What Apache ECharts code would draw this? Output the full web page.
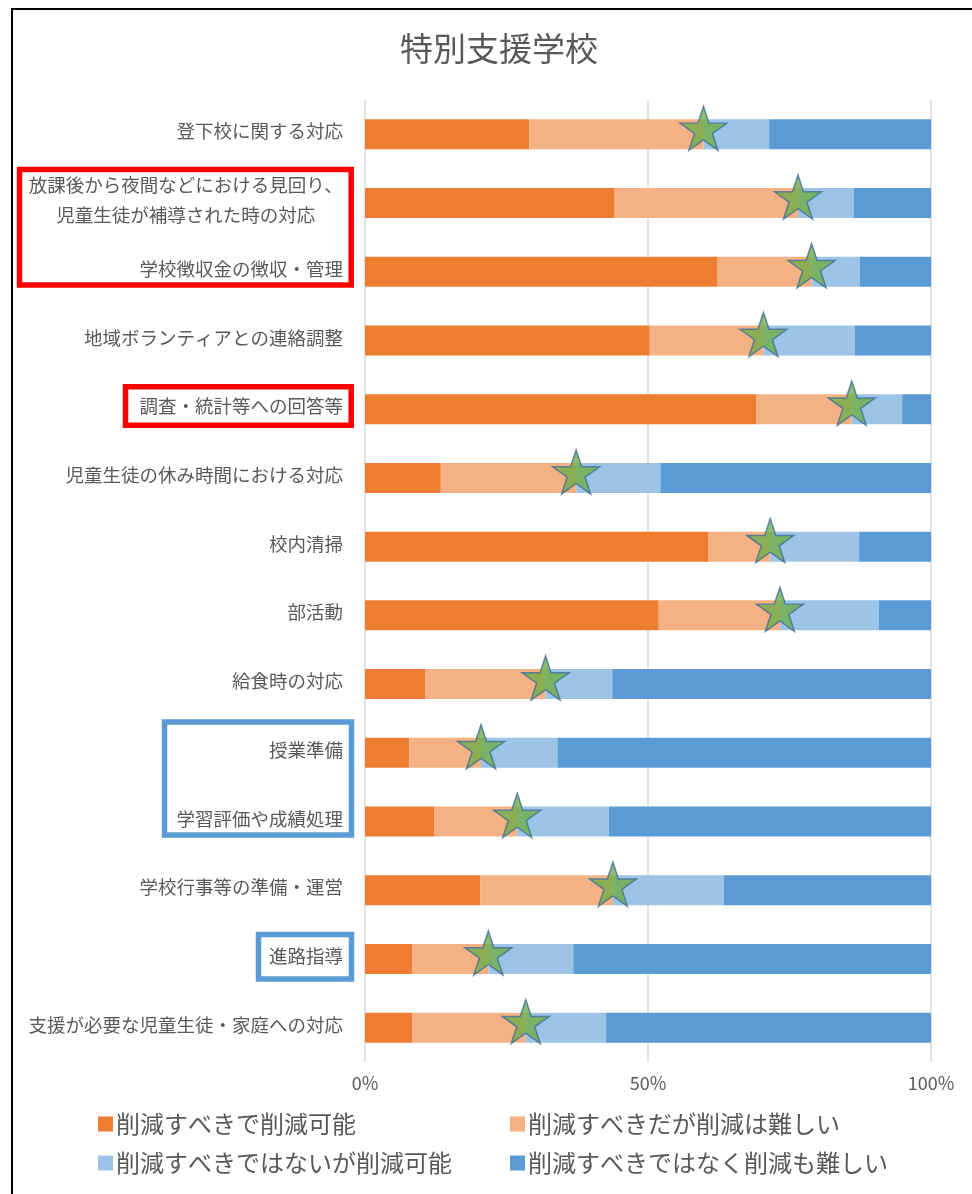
<!DOCTYPE html>
<html>
<head>
<meta charset="utf-8">
<script src="https://cdn.jsdelivr.net/npm/echarts@6/dist/echarts.min.js"></script>
<style>
html,body{margin:0;padding:0;background:#fff;}
#chart{width:972px;height:1194px;}
</style>
</head>
<body>
<div id="chart"></div>
<script>
// ---- data ----
const titleText = '特別支援学校';
const categories = [
  '登下校に関する対応',
  '放課後から夜間などにおける見回り、\n児童生徒が補導された時の対応',
  '学校徴収金の徴収・管理',
  '地域ボランティアとの連絡調整',
  '調査・統計等への回答等',
  '児童生徒の休み時間における対応',
  '校内清掃',
  '部活動',
  '給食時の対応',
  '授業準備',
  '学習評価や成績処理',
  '学校行事等の準備・運営',
  '進路指導',
  '支援が必要な児童生徒・家庭への対応'
];
const seriesNames = ['削減すべきで削減可能', '削減すべきだが削減は難しい', '削減すべきではないが削減可能', '削減すべきではなく削減も難しい'];
const reducibleEasy   = [29.0, 44.1, 62.3, 50.3, 69.1, 13.4, 60.6, 51.9, 10.7,  7.8, 12.2, 20.4,  8.4,  8.4];
const reducibleHard   = [30.8, 32.4, 16.6, 20.1, 16.9, 23.9, 11.0, 21.4, 21.2, 12.7, 14.7, 23.4, 13.4, 20.0];
const keepEasy        = [11.6,  9.8,  8.5, 16.1,  8.9, 14.9, 15.7, 17.5, 11.8, 13.5, 16.2, 19.6, 15.0, 14.2];
const keepHard        = [28.6, 13.7, 12.6, 13.5,  5.1, 47.8, 12.7,  9.2, 56.3, 66.0, 56.9, 36.6, 63.2, 57.4];
const starValues      = [59.8, 76.5, 78.9, 70.4, 86.0, 37.3, 71.6, 73.3, 31.9, 20.5, 26.9, 43.8, 21.8, 28.4];
const xTicks = [0, 50, 100];

const colors = ['#ED7D31', '#F4B183', '#9DC3E6', '#5B9BD5'];
const labelColor = '#595959';
const fontFamily = '"Noto Sans CJK JP", "Noto Sans", sans-serif';

const chart = echarts.init(document.getElementById('chart'), null, {renderer: 'canvas'});

const starPath = 'path://M50,0 L61.2,34.5 L97.6,34.5 L68.2,55.9 L79.4,90.5 L50,69.1 L20.6,90.5 L31.8,55.9 L2.4,34.5 L38.8,34.5 Z';

const values = [reducibleEasy, reducibleHard, keepEasy, keepHard];
const barSeries = values.map((arr, i) => ({
  name: seriesNames[i],
  type: 'bar',
  stack: 'total',
  barWidth: 30,
  itemStyle: {color: colors[i]},
  data: arr,
  z: 2
}));

const starSeries = {
  name: 'star',
  type: 'scatter',
  symbol: starPath,
  symbolSize: [47, 44],
  symbolOffset: [0, -6],
  itemStyle: {color: '#70AD47', borderColor: '#41719C', borderWidth: 1.5},
  data: starValues.map((v, i) => [v, i]),
  z: 5
};

const yFont = 18.5;
const labelWidth = yFont * 17;

function box(x, y, w, h, color) {
  return {
    type: 'rect',
    shape: {x: x, y: y, width: w, height: h},
    style: {fill: 'none', stroke: color, lineWidth: 5.5},
    z: 100
  };
}

chart.setOption({
  animation: false,
  backgroundColor: '#ffffff',
  title: {
    text: titleText,
    left: 494,
    top: 27,
    textAlign: 'center',
    textStyle: {fontFamily: fontFamily, fontSize: 33, fontWeight: 'normal', color: labelColor}
  },
  grid: {left: 365, right: 41, top: 100, bottom: 132, containLabel: false},
  xAxis: {
    type: 'value',
    min: 0, max: 100, interval: 50,
    axisLine: {show: false},
    axisTick: {show: false},
    splitLine: {show: true, lineStyle: {color: '#D9D9D9', width: 1.5}},
    axisLabel: {
      margin: 12,
      color: labelColor,
      fontFamily: fontFamily,
      fontSize: 18,
      formatter: v => xTicks.indexOf(v) >= 0 ? v + '%' : ''
    }
  },
  yAxis: {
    type: 'category',
    inverse: true,
    data: categories,
    axisLine: {show: false},
    axisTick: {show: false},
    splitLine: {show: false},
    axisLabel: {
      margin: 22,
      color: labelColor,
      fontFamily: fontFamily,
      fontSize: yFont,
      lineHeight: 30,
      padding: [0, 0, 6, 0],
      formatter: function (v) {
        if (v.indexOf('\n') >= 0) {
          return v.split('\n').map(s => '{c|' + s + '}').join('\n');
        }
        return v;
      },
      rich: {
        c: {width: labelWidth, align: 'center', fontSize: yFont, lineHeight: 30, color: labelColor, fontFamily: fontFamily}
      }
    }
  },
  legend: [
    {
      data: [seriesNames[0], seriesNames[2]],
      orient: 'vertical',
      left: 93, top: 1107,
      itemGap: 15,
      itemWidth: 15, itemHeight: 15,
      icon: 'rect',
      textStyle: {fontFamily: fontFamily, fontSize: 24, color: labelColor, padding: [0, 0, 0, -2]}
    },
    {
      data: [seriesNames[1], seriesNames[3]],
      orient: 'vertical',
      left: 505, top: 1107,
      itemGap: 15,
      itemWidth: 15, itemHeight: 15,
      icon: 'rect',
      textStyle: {fontFamily: fontFamily, fontSize: 24, color: labelColor, padding: [0, 0, 0, -2]}
    }
  ],
  graphic: [
    {type: 'line', shape: {x1: 11, y1: 9, x2: 972, y2: 9}, style: {stroke: '#000', lineWidth: 2}, z: 100},
    {type: 'line', shape: {x1: 12, y1: 8, x2: 12, y2: 1194}, style: {stroke: '#000', lineWidth: 2}, z: 100},
    box(19.5, 169.5, 331.7, 115.5, '#FF0000'),
    box(125.5, 386.8, 225.7, 38.4, '#FF0000'),
    box(164.5, 722, 187, 113, '#5B9BD5'),
    box(258.5, 934.5, 93, 44.5, '#5B9BD5')
  ],
  series: barSeries.concat([starSeries])
});
</script>
</body>
</html>
